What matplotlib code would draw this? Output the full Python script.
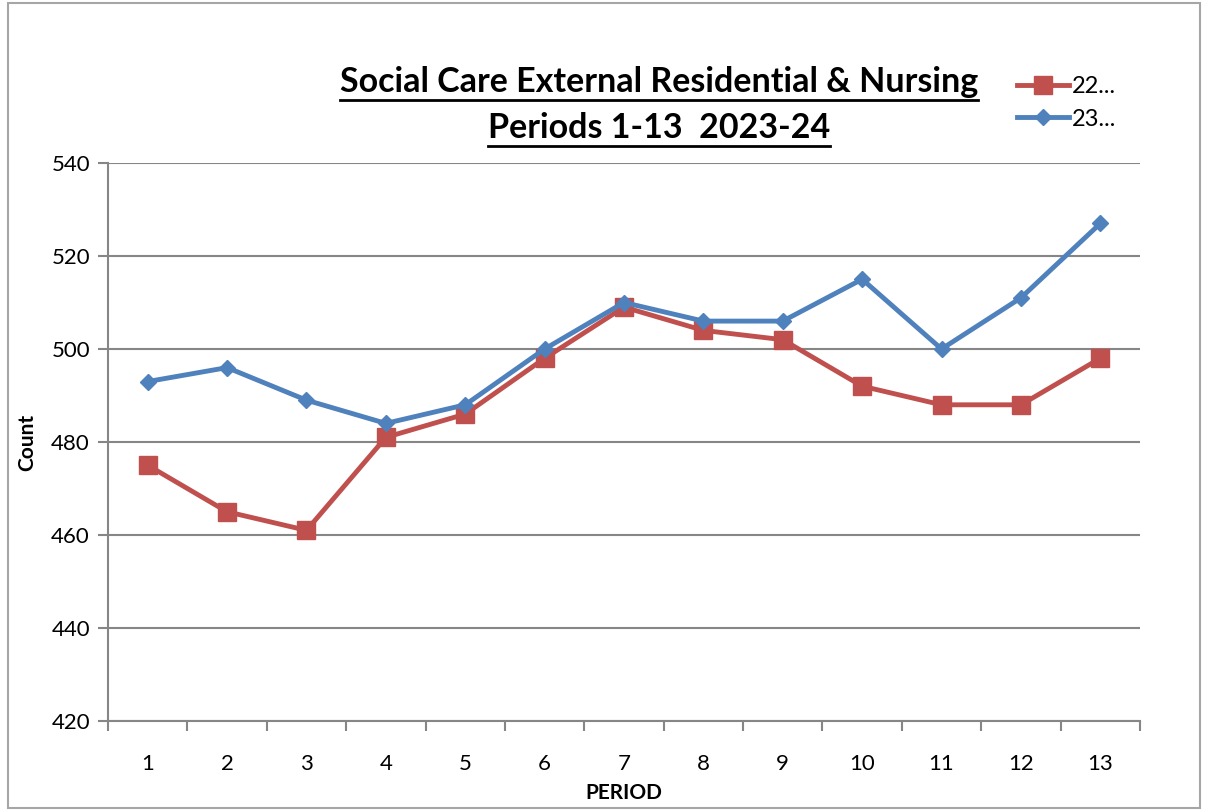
import matplotlib.pyplot as plt
from matplotlib.patches import Rectangle

periods = list(range(1, 14))
series_22 = [475, 465, 461, 481, 486, 498, 509, 504, 502, 492, 488, 488, 498]
series_23 = [493, 496, 489, 484, 488, 500, 510, 506, 506, 515, 500, 511, 527]
y_ticks = [420, 440, 460, 480, 500, 520, 540]

RED = "#C0504D"
BLUE = "#4F81BD"
GRID = "#868686"

plt.rcParams["font.family"] = ["Lato", "DejaVu Sans"]

fig = plt.figure(figsize=(12.05, 8.11), dpi=100)
ax = fig.add_axes([108 / 1205, 1 - 721 / 811, (1140 - 108) / 1205, (721 - 163) / 811])

ax.plot(periods, series_22, color=RED, lw=3.5, marker="s", ms=13,
        label="22...", zorder=3)
ax.plot(periods, series_23, color=BLUE, lw=3.5, marker="D", ms=8.5,
        label="23...", zorder=4)

ax.set_xlim(0.5, 13.5)
ax.set_ylim(420, 540)
ax.set_yticks(y_ticks)
ax.set_xticks(periods)
ax.set_xticks([p + 0.5 for p in range(0, 14)], minor=True)
ax.tick_params(axis="x", which="major", length=0, pad=24, labelsize=16)
ax.tick_params(axis="x", which="minor", length=7, width=1.5, color=GRID, direction="out")
ax.tick_params(axis="y", length=7, width=1.5, color=GRID, labelsize=16, pad=6)

ax.grid(axis="y", color=GRID, lw=1.5)
ax.set_axisbelow(True)
for side in ["top", "right"]:
    ax.spines[side].set_visible(False)
for side in ["left", "bottom"]:
    ax.spines[side].set_color(GRID)
    ax.spines[side].set_linewidth(1.5)

ax.set_ylabel("Count", fontsize=15, fontweight="bold", labelpad=10)
ax.set_xlabel("PERIOD", fontsize=15, fontweight="bold", labelpad=6)

leg = fig.legend(loc="upper left", bbox_to_anchor=(1005 / 1205, 1 - 64 / 811),
                 frameon=False, fontsize=17, handlelength=2.2, handletextpad=0.15,
                 labelspacing=0.5, borderpad=0)

# title with underline
t1 = fig.text(659 / 1205, 1 - 82 / 811, "Social Care External Residential & Nursing",
              ha="center", va="center", fontsize=24.5, fontweight="bold")
t2 = fig.text(659 / 1205, 1 - 128 / 811, "Periods 1-13  2023-24",
              ha="center", va="center", fontsize=24.5, fontweight="bold")
fig.canvas.draw()
r = fig.canvas.get_renderer()
for t in (t1, t2):
    bb = t.get_window_extent(r).transformed(fig.transFigure.inverted())
    y = bb.y0 - 2 / 811
    fig.add_artist(plt.Line2D([bb.x0, bb.x1], [y, y], color="black", lw=2,
                              transform=fig.transFigure))

fig.add_artist(Rectangle((8 / 1205, 3 / 811), 1192 / 1205, 805 / 811,
                         transform=fig.transFigure, fill=False,
                         edgecolor="#A6A6A6", lw=1.5))

fig.savefig("out.png", dpi=100)
